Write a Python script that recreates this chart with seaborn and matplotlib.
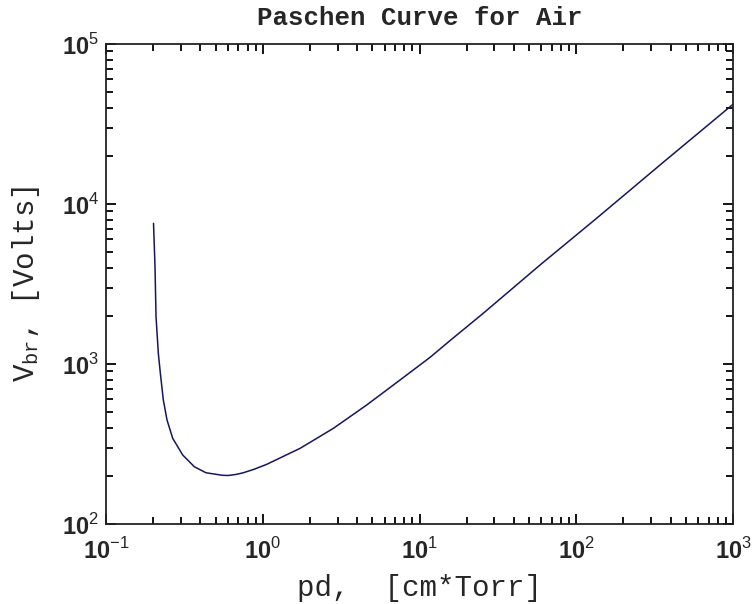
import numpy as np
import pandas as pd
import matplotlib
matplotlib.use("Agg")
import matplotlib.pyplot as plt
import matplotlib.ticker as mticker
import seaborn as sns

# Values
pd_values = [0.201, 0.2054, 0.2085, 0.2157, 0.2222, 0.2321, 0.245, 0.2665,
             0.3085, 0.366, 0.4345, 0.555, 0.603, 0.675, 0.751, 0.883, 1.06,
             1.73, 2.82, 4.60, 7.51, 11.67, 15.65, 25.5, 58.7, 135.0, 359.0,
             1000.0]
v_breakdown = [7570, 4055, 1977, 1167, 874, 596, 447, 343,
               270, 228, 209, 201.5, 201, 204, 209, 220, 236,
               297, 396, 554, 794, 1100, 1400, 2074, 4154, 8150, 18230,
               42000]
x_tick_values = [0.1, 1, 10, 100, 1000]
x_tick_labels = [r"$\mathbf{10}^{\mathsf{-1}}$", r"$\mathbf{10}^{\mathsf{0}}$",
                 r"$\mathbf{10}^{\mathsf{1}}$", r"$\mathbf{10}^{\mathsf{2}}$",
                 r"$\mathbf{10}^{\mathsf{3}}$"]
y_tick_values = [100, 1000, 10000, 100000]
y_tick_labels = [r"$\mathbf{10}^{\mathsf{2}}$", r"$\mathbf{10}^{\mathsf{3}}$",
                 r"$\mathbf{10}^{\mathsf{4}}$", r"$\mathbf{10}^{\mathsf{5}}$"]
x_minor_values = [m * 10.0 ** e for e in (-1, 0, 1, 2) for m in range(2, 10)]
y_minor_values = [m * 10.0 ** e for e in (2, 3, 4) for m in range(2, 10)]
title_text = "Paschen Curve for Air"
x_label = "pd,  [cm*Torr]"
y_label = r"V$_{\mathrm{br}}$, [Volts]"

sns.set_style("ticks")
plt.rcParams["font.family"] = ["Liberation Mono", "DejaVu Sans"]
plt.rcParams["mathtext.fontset"] = "custom"
plt.rcParams["mathtext.rm"] = "Liberation Mono"
plt.rcParams["mathtext.bf"] = "Liberation Sans:bold"
plt.rcParams["mathtext.sf"] = "Liberation Sans"
plt.rcParams["xtick.direction"] = "in"
plt.rcParams["ytick.direction"] = "in"
plt.rcParams["xtick.top"] = True
plt.rcParams["ytick.right"] = True
plt.rcParams["xtick.minor.visible"] = True
plt.rcParams["ytick.minor.visible"] = True

df = pd.DataFrame({"pd": pd_values, "V": v_breakdown})

fig = plt.figure(figsize=(7.54, 6.04), dpi=100)
fig.patch.set_facecolor("white")
ax = fig.add_axes([106 / 754, 1 - 524 / 604, (733 - 106) / 754, (524 - 44) / 604])

sns.lineplot(data=df, x="pd", y="V", ax=ax, color="#16165c", linewidth=1.1,
             sort=False, estimator=None)

ax.set_xscale("log")
ax.set_yscale("log")
ax.set_xlim(0.1, 1000)
ax.set_ylim(100, 100000)

ax.xaxis.set_major_locator(mticker.FixedLocator(x_tick_values))
ax.xaxis.set_major_formatter(mticker.FixedFormatter(x_tick_labels))
ax.yaxis.set_major_locator(mticker.FixedLocator(y_tick_values))
ax.yaxis.set_major_formatter(mticker.FixedFormatter(y_tick_labels))
ax.xaxis.set_minor_locator(mticker.FixedLocator(x_minor_values))
ax.yaxis.set_minor_locator(mticker.FixedLocator(y_minor_values))
ax.xaxis.set_minor_formatter(mticker.NullFormatter())
ax.yaxis.set_minor_formatter(mticker.NullFormatter())

ax.tick_params(which="both", direction="in", bottom=True, left=True, top=True,
               right=True, color="black")
ax.tick_params(which="major", length=7, width=1.3, labelsize=17)
ax.tick_params(which="minor", length=5, width=1.3)
ax.tick_params(axis="x", which="major", pad=10)
ax.tick_params(axis="y", which="major", pad=5)

for s in ax.spines.values():
    s.set_visible(True)
    s.set_linewidth(1.3)
    s.set_color("#222222")

ax.set_title(title_text, fontsize=18.5, fontweight="bold", pad=14,
             family=["Liberation Mono", "DejaVu Sans"])
ax.set_xlabel(x_label, fontsize=21, labelpad=7)
ax.set_ylabel(y_label, fontsize=21, labelpad=14)
ax.grid(False)

fig.savefig("out.png", dpi=100, facecolor="white")
